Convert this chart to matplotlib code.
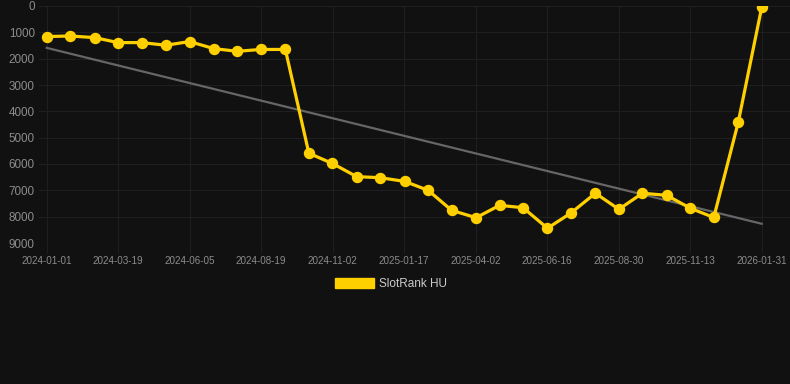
import matplotlib
matplotlib.use("Agg")
import matplotlib.pyplot as plt
import matplotlib.dates as mdates
import numpy as np
from datetime import datetime, timedelta
from matplotlib.patches import Patch

dates = ["2024-01-01", "2024-01-26", "2024-02-21", "2024-03-17", "2024-04-11",
         "2024-05-07", "2024-06-01", "2024-06-27", "2024-07-22", "2024-08-16",
         "2024-09-11", "2024-10-06", "2024-10-31", "2024-11-26", "2024-12-21",
         "2025-01-16", "2025-02-10", "2025-03-07", "2025-04-02", "2025-04-27",
         "2025-05-22", "2025-06-17", "2025-07-12", "2025-08-07", "2025-09-01",
         "2025-09-26", "2025-10-22", "2025-11-16", "2025-12-11", "2026-01-06",
         "2026-01-31"]
rank = [1160, 1140, 1200, 1390, 1390, 1490, 1350, 1620, 1720, 1650,
        1650, 5590, 5980, 6480, 6520, 6660, 7000, 7760, 8040, 7570,
        7660, 8440, 7860, 7110, 7720, 7110, 7190, 7680, 8030, 4420,
        50]
trend_dates = ["2024-01-01", "2026-01-31"]
trend_vals = [1590, 8270]
tick_labels = ["2024-01-01", "2024-03-19", "2024-06-05", "2024-08-19", "2024-11-02",
               "2025-01-17", "2025-04-02", "2025-06-16", "2025-08-30", "2025-11-13",
               "2026-01-31"]
y_ticks = [0, 1000, 2000, 3000, 4000, 5000, 6000, 7000, 8000, 9000]
series_name = "SlotRank HU"

plt.rcParams['font.family'] = ['Liberation Sans', 'DejaVu Sans']

bg = "#111111"
grid_c = "#1f1f1f"
text_c = "#8c8c8c"
yellow = "#FFD000"

x = mdates.date2num([datetime.strptime(d, "%Y-%m-%d") for d in dates])
tx = mdates.date2num([datetime.strptime(d, "%Y-%m-%d") for d in trend_dates])

fig = plt.figure(figsize=(7.9, 3.84), dpi=100, facecolor=bg)
ax = fig.add_axes([39 / 790, 1 - 243 / 384, 1 - 39 / 790, (243 - 6) / 384])
ax.set_facecolor(bg)

ax.plot(tx, trend_vals, color="#666666", lw=1.6, zorder=2)
ax.plot(x, rank, color=yellow, lw=2.3, marker="o", ms=7.2, mec=yellow, mfc=yellow, zorder=3)

span = x[-1] - x[0]
px_per_day = (761.7 - 46.7) / span
ax.set_xlim(x[0] - (46.7 - 39) / px_per_day, x[-1] + (790 - 761.7) / px_per_day)
ax.set_ylim(9000, 0)

ticks = [x[0] + i * span / (len(tick_labels) - 1) for i in range(len(tick_labels))]
ax.set_xticks(ticks)
ax.set_xticklabels(tick_labels)
ax.set_yticks(y_ticks)
ax.set_yticklabels([str(v) for v in y_ticks])

ax.grid(True, color=grid_c, lw=0.8)
ax.set_axisbelow(True)
for s in ax.spines.values():
    s.set_visible(False)
ax.tick_params(axis="x", colors=grid_c, labelcolor=text_c, labelsize=7.1, length=7, width=0.8, pad=2)
ax.tick_params(axis="y", colors=grid_c, labelcolor=text_c, labelsize=8.4, length=0, pad=3)

leg = fig.legend(handles=[Patch(facecolor=yellow, edgecolor=yellow)], labels=[series_name],
                 loc="center", bbox_to_anchor=(391 / 790, 1 - 284 / 384), frameon=False,
                 handlelength=3.3, handleheight=0.9, handletextpad=0.5, fontsize=8.5,
                 labelcolor="#cccccc")

fig.savefig("out.png", dpi=100, facecolor=bg)
